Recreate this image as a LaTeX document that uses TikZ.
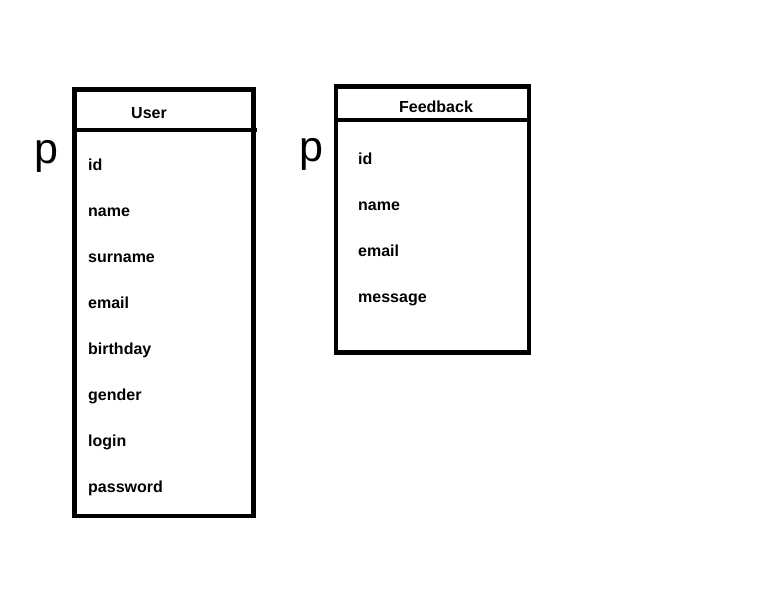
\documentclass[tikz,border=0pt]{standalone}
\usepackage{fontspec}
\setmainfont{Liberation Sans}
\begin{document}
\begin{tikzpicture}[x=1pt,y=-1pt,
  box/.style={line width=4.6pt,line cap=rect},
  field/.style={anchor=base west,inner sep=0pt,font=\fontsize{16}{16}\selectfont\bfseries},
  title/.style={anchor=base,inner sep=0pt,font=\fontsize{16}{16}\selectfont\bfseries},
  pmark/.style={anchor=base west,inner sep=0pt,font=\fontsize{43}{43}\selectfont}]
\useasboundingbox[fill=white] (0,0) rectangle (768,614);
% User table
\draw[box] (74.5,89.5) rectangle (253.5,516);
\coordinate (u1) at (74.5,130);
\coordinate (u2) at (257,130);
\draw[box,line cap=butt] (u1) -- (u2);
\node[title] (utitle) at (149,118) {User};
\node[field] (uid) at (88,170) {id};
\node[field] (uname) at (88,216) {name};
\node[field] (usurname) at (88,262) {surname};
\node[field] (uemail) at (88,308) {email};
\node[field] (ubirthday) at (88,354) {birthday};
\node[field] (ugender) at (88,400) {gender};
\node[field] (ulogin) at (88,446) {login};
\node[field] (upassword) at (88,492) {password};
\node[pmark] (up) at (34,163) {p};
% Feedback table
\draw[box] (336,86.5) rectangle (529,352.5);
\coordinate (f1) at (336,120);
\coordinate (f2) at (529,120);
\draw[box] (f1) -- (f2);
\node[title] (ftitle) at (436,112) {Feedback};
\node[field] (fid) at (358,164) {id};
\node[field] (fname) at (358,210) {name};
\node[field] (femail) at (358,256) {email};
\node[field] (fmessage) at (358,302) {message};
\node[pmark] (fp) at (299,161) {p};
\end{tikzpicture}
\end{document}
